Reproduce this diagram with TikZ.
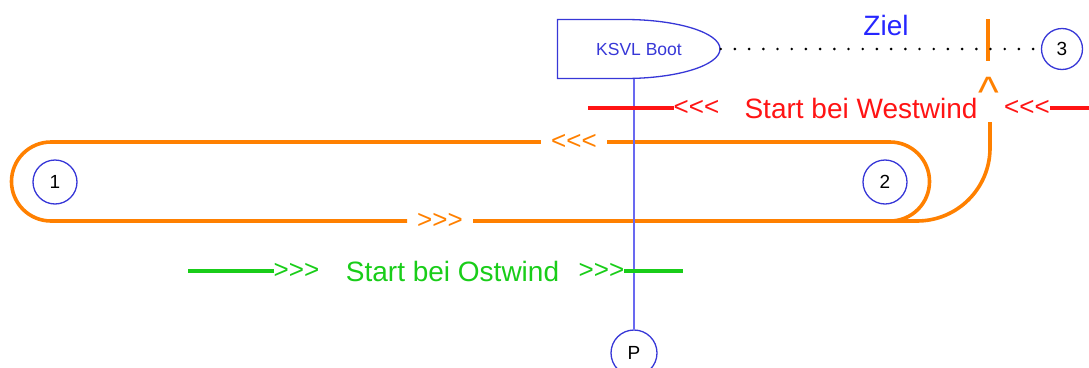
\documentclass[tikz,border=0pt]{standalone}
\usepackage{fontspec}
\setmainfont{Liberation Sans}[Ligatures=TeXOff]
\usepackage{amsmath}

\definecolor{tonnenblau}{RGB}{55,55,215}
\definecolor{pfahlblau}{RGB}{105,105,240}
\definecolor{bahnorange}{RGB}{255,128,0}
\definecolor{westrot}{RGB}{255,20,20}
\definecolor{ostgruen}{RGB}{25,205,25}

\tikzset{
    tonne/.style={circle, draw=tonnenblau, line width=1.3pt, minimum size=44pt, inner sep=0pt, font=\fontsize{19}{19}\selectfont},
    bahn/.style={bahnorange, line width=3.6pt},
    gross/.style={inner sep=0pt, font=\fontsize{28}{32}\selectfont},
    pfeile/.style={inner sep=0pt, font=\fontsize{26}{30}\selectfont},
    rotlinie/.style={westrot, line width=4pt},
    gruenlinie/.style={ostgruen, line width=4pt},
}

\begin{document}
\begin{tikzpicture}[x=1pt,y=-1pt]

                \useasboundingbox (0,0) rectangle (1089,367);

                % Tonnen
                \node[tonne] (t1) at (55,182) {1};
                \node[tonne] (t2) at (885,182) {2};
                \node[tonne, minimum size=41pt] (t3) at (1062,49) {3};
                \node[tonne, minimum size=46pt] (p) at (634,353) {P};

                % Bahn
                \draw[bahn] (51,142) -- (541,142);
                \node[pfeile, text=bahnorange] (b1) at (574,142) {<<<};
                \draw[bahn] (607,142) -- (890,142) arc[start angle=90, end angle=-90, radius=39.5pt] -- (473,221);
                \node[pfeile, text=bahnorange] (b2) at (440,221) {>>>};
                \draw[bahn] (407,221) -- (51,221) arc[start angle=-90, end angle=-270, radius=39.5pt];
                \draw[bahn] (990,122) -- (990,148) arc[start angle=0, end angle=-90, radius=73pt] -- (889,221);

                % Ziel
                \draw[bahn, line width=4pt] (988,19) -- (988,61);
                \node[gross, font=\fontsize{44}{44}\selectfont, text=bahnorange, anchor=base] (pfeil) at (989,107) {\textasciicircum};
                \node[gross, text=blue!85!white, anchor=base] (ziel) at (886,35) {Ziel};

                % KSVL Boot
                \node[minimum width=163pt, minimum height=59pt, inner sep=0pt, text=tonnenblau, font=\fontsize{17.5}{18}\selectfont] (boot) at (639,49) {KSVL Boot};
                \draw[tonnenblau, line width=1.3pt] (625,19.5) -- (557.5,19.5) -- (557.5,78.5) -- (625,78.5) arc[start angle=-90, end angle=90, x radius=95pt, y radius=29.5pt] -- cycle;
                \draw[line width=2.9pt, line cap=round, dash pattern=on 0pt off 14.2pt] (boot.east) -- (t3.west);
                \draw[pfahlblau, line width=1.5pt] (p |- boot.south) -- (p.north);

                % Start bei Westwind
                \node[pfeile, text=westrot] (w1) at (696.5,108) {<<<};
                \node[pfeile, text=westrot] (w2) at (1027,108) {<<<};
                \node[gross, text=westrot, anchor=base] (west) at (861,118) {Start bei Westwind};
                \draw[rotlinie] (w1.west) -- ++(-86,0);
                \draw[rotlinie] (w2.east) -- ++(45,0);

                % Start bei Ostwind
                \node[pfeile, text=ostgruen] (o1) at (296.5,271) {>>>};
                \node[pfeile, text=ostgruen] (o2) at (601.5,271) {>>>};
                \node[gross, text=ostgruen, anchor=base] (ost) at (452.5,281) {Start bei Ostwind};
                \draw[gruenlinie] (o1.west) -- ++(-86,0);
                \draw[gruenlinie] (o2.east) -- ++(59,0);

            \end{tikzpicture}
\end{document}
